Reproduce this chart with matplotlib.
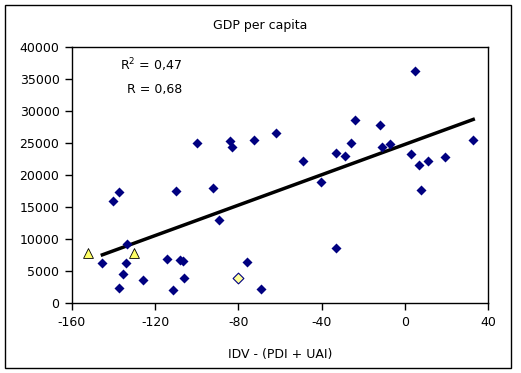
import numpy as np
import matplotlib
matplotlib.use('Agg')
import matplotlib.pyplot as plt
from matplotlib.patches import Rectangle

plt.rcParams['axes.unicode_minus'] = False
plt.rcParams['font.family'] = 'DejaVu Sans'

# blue countries: IDV - (PDI + UAI) vs GDP per capita
idv_x = [-145.4, -134.2, -135.3, -137.3, -133.4, -126.0, -114.2, -108.1, -106.8, -111.3,
         -106.0, -140.1, -137.3, -110.1, -100.0, -84.0, -82.9, -72.4, -62.1, -92.4,
         -48.8, -40.1, -32.9, -28.9, 4.9, -24.0, -11.9, -25.7, -11.0, -7.0,
         2.8, 7.0, 11.0, 19.2, 32.9, 7.9, -89.2, -75.9, -69.3, -32.9]
gdp_y = [6240, 6240, 4520, 2290, 9150, 3590, 6810, 6660, 6500, 2030,
         3850, 15900, 17270, 17470, 24910, 25220, 24290, 25380, 26470, 17990,
         22100, 18830, 23350, 22930, 36140, 28500, 27720, 24910, 24290, 24750,
         23190, 21480, 22150, 22730, 25380, 17680, 12900, 6350, 2140, 8530]

# highlighted points
tri_x = [-152.2, -130.0]
tri_y = [7750, 7750]
dia_x = [-80.0]
dia_y = [3850]

# trendline (slope, intercept)
trend_slope = 118.5
trend_intercept = 24750

fig = plt.figure(figsize=(5.21, 3.73), dpi=100)
fig.patches.append(Rectangle((5/521, 5/373), 506/521, 363/373, transform=fig.transFigure,
                             fill=False, edgecolor='black', linewidth=1.0))

ax = fig.add_axes([72/521, 1 - 303/373, 416/521, 256.3/373])

xs = np.array([min(idv_x), max(idv_x)])
ax.plot(xs, trend_slope * xs + trend_intercept, color='black', linewidth=2.5, zorder=2)

ax.scatter(idv_x, gdp_y, marker='D', s=26, color='#000080', linewidths=0, zorder=3)
ax.scatter(tri_x, tri_y, marker='^', s=50, color='#FFFF66', edgecolors='black', linewidths=0.6, zorder=3)
ax.scatter(dia_x, dia_y, marker='D', s=30, color='#FFFF99', edgecolors='#000080', linewidths=0.8, zorder=3)

ax.set_xlim(-160, 40)
ax.set_ylim(0, 40000)
ax.set_xticks([-160, -120, -80, -40, 0, 40])
ax.set_yticks(range(0, 40001, 5000))
ax.tick_params(direction='out', length=5, width=1, labelsize=9, pad=4)
for s in ax.spines.values():
    s.set_linewidth(1.0)

fig.text(260/521, 1 - 25/373, 'GDP per capita', ha='center', va='center', fontsize=9)
ax.set_xlabel('IDV - (PDI + UAI)', fontsize=9, labelpad=14)

fig.text(120/521, 1 - 65/373, r'R$^2$ = 0,47', ha='left', va='center', fontsize=9)
fig.text(127/521, 1 - 90/373, 'R = 0,68', ha='left', va='center', fontsize=9)

fig.savefig('out.png', dpi=100)
